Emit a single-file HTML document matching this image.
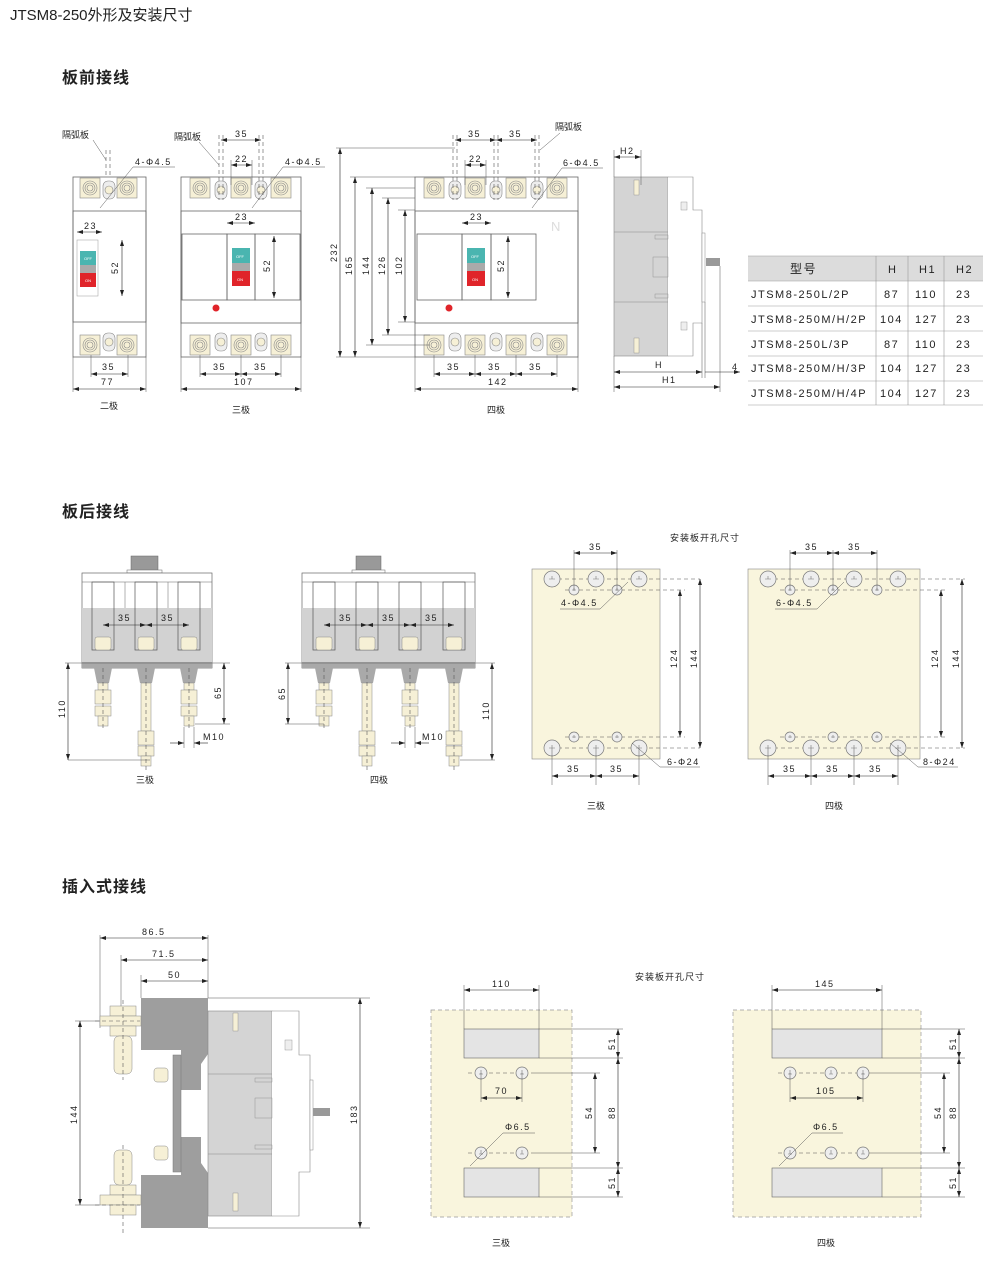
<!DOCTYPE html>
<html><head><meta charset="utf-8"><style>
html,body{margin:0;padding:0;background:#fff}
svg{display:block}
text{font-family:"Liberation Sans","Noto Sans CJK SC",sans-serif;fill:#222}
.t{font-size:9px;letter-spacing:1.5px}
.h{font-size:16px;font-weight:bold;letter-spacing:1px}
.o{fill:none;stroke:#666;stroke-width:.8}
.d{stroke:#222;stroke-width:.6;fill:none}
.e{stroke:#555;stroke-width:.5;fill:none}
.dash{stroke:#555;stroke-width:.6;stroke-dasharray:4 3;fill:none}
</style></head><body>
<svg width="1000" height="1273" viewBox="0 0 1000 1273" xmlns="http://www.w3.org/2000/svg">
<defs>
<marker id="a" viewBox="0 0 6 4" refX="6" refY="2" markerWidth="6" markerHeight="4" markerUnits="userSpaceOnUse" orient="auto-start-reverse"><path d="M0,0L6,2L0,4z" fill="#222"/></marker>
<g id="term"><rect x="-10" y="-10" width="20" height="20" fill="#f6f0d6" stroke="#888" stroke-width=".6"/><circle r="7" fill="none" stroke="#888" stroke-width=".6"/><circle r="5" fill="none" stroke="#888" stroke-width=".6"/><circle r="3" fill="none" stroke="#888" stroke-width=".6"/></g>
<g id="sm"><rect x="-6" y="-9" width="12" height="18" rx="5" fill="#eee" stroke="#888" stroke-width=".6"/><circle r="4" fill="#f6f0d6" stroke="#888" stroke-width=".6"/></g>
<g id="bh"><circle r="8" fill="#eee" stroke="#777" stroke-width=".7"/><path d="M-3,0H3M0,-3V0" stroke="#777" stroke-width=".6"/></g>
<g id="sh"><circle r="5" fill="#eee" stroke="#777" stroke-width=".7"/><path d="M-2,0H2M0,-2V1" stroke="#777" stroke-width=".6"/></g>
<g id="h6"><circle r="6" fill="#eee" stroke="#777" stroke-width=".7"/><path d="M-2,1H2M0,-3V1" stroke="#777" stroke-width=".6"/></g>
<g id="short"><path d="M-9,0H9L6,15H-6Z" fill="#a9a9a9"/><rect x="-5" y="15" width="10" height="7" fill="#f6f0d6" stroke="#888" stroke-width=".5"/><rect x="-8" y="22" width="16" height="14" fill="#f6f0d6" stroke="#888" stroke-width=".5"/><rect x="-8" y="38" width="16" height="10" fill="#f6f0d6" stroke="#888" stroke-width=".5"/><rect x="-5" y="48" width="10" height="10" fill="#f6f0d6" stroke="#888" stroke-width=".5"/><path d="M0,0V62" class="dash"/></g>
<g id="long"><path d="M-9,0H9L6,15H-6Z" fill="#a9a9a9"/><rect x="-5" y="15" width="10" height="48" fill="#f6f0d6" stroke="#888" stroke-width=".5"/><rect x="-8" y="63" width="16" height="14" fill="#f6f0d6" stroke="#888" stroke-width=".5"/><rect x="-8" y="78" width="16" height="10" fill="#f6f0d6" stroke="#888" stroke-width=".5"/><rect x="-5" y="88" width="10" height="10" fill="#f6f0d6" stroke="#888" stroke-width=".5"/><path d="M0,0V102" class="dash"/></g>
<g id="slot"><rect x="-11" y="0" width="22" height="68" fill="none" stroke="#555" stroke-width=".7"/><rect x="-8" y="55" width="16" height="13" rx="2" fill="#f6f0d6" stroke="#888" stroke-width=".5"/></g>
</defs>

<text x="10" y="20" style="font-size:15px">JTSM8-250外形及安装尺寸</text>
<text x="62" y="83" class="h">板前接线</text>
<text x="62" y="517" class="h">板后接线</text>
<text x="62" y="892" class="h">插入式接线</text>

<!-- ===== 2P ===== -->
<rect x="73" y="177" width="73" height="180" class="o"/>
<rect x="73" y="211" width="73" height="111" class="o" fill="#fff"/>
<use href="#term" x="90" y="188"/><use href="#term" x="127" y="188"/><use href="#sm" x="109" y="190"/>
<use href="#term" x="90" y="345"/><use href="#term" x="127" y="345"/><use href="#sm" x="109" y="342"/>
<rect x="77" y="240" width="21" height="56" fill="#fff" stroke="#999" stroke-width=".5"/>
<rect x="80" y="251" width="16" height="14" fill="#4ab5b0"/><rect x="80" y="265" width="16" height="8" fill="#aaa"/><rect x="80" y="273" width="16" height="14" fill="#e0242a"/>
<text x="84" y="260" style="font-size:4px;fill:#fff">OFF</text><text x="85" y="282" style="font-size:4px;fill:#fff">ON</text>
<line x1="77" y1="232" x2="102" y2="232" class="d" marker-start="url(#a)" marker-end="url(#a)"/><text x="84" y="229" class="t">23</text>
<line x1="122" y1="240" x2="122" y2="296" class="d" marker-start="url(#a)" marker-end="url(#a)"/><text transform="translate(118,274) rotate(-90)" class="t">52</text>
<line x1="91" y1="374" x2="128" y2="374" class="d" marker-start="url(#a)" marker-end="url(#a)"/><text x="102" y="370" class="t">35</text>
<line x1="73" y1="389" x2="146" y2="389" class="d" marker-start="url(#a)" marker-end="url(#a)"/><text x="101" y="385" class="t">77</text>
<path d="M73,357V392M146,357V392M91,355V377M128,355V377" class="e"/>
<text x="100" y="409" style="font-size:9px">二极</text>
<text x="62" y="138" style="font-size:9px">隔弧板</text><path d="M93,140L106,160" class="e"/><path d="M106,150V178M110,150V178" class="dash"/>
<text x="135" y="165" class="t">4-Φ4.5</text><path d="M175,167H133L100,208" class="e"/>

<!-- ===== 3P ===== -->
<rect x="181" y="177" width="120" height="180" class="o"/>
<rect x="181" y="211" width="120" height="112" class="o" fill="#fff"/>
<use href="#term" x="200" y="188"/><use href="#term" x="241" y="188"/><use href="#term" x="281" y="188"/>
<use href="#sm" x="221" y="190"/><use href="#sm" x="261" y="190"/>
<use href="#term" x="200" y="345"/><use href="#term" x="241" y="345"/><use href="#term" x="281" y="345"/>
<use href="#sm" x="221" y="342"/><use href="#sm" x="261" y="342"/>
<rect x="182" y="234" width="45" height="66" class="o"/><rect x="227" y="234" width="28" height="66" class="o"/><rect x="255" y="234" width="45" height="66" class="o"/>
<rect x="232" y="248" width="18" height="15" fill="#4ab5b0"/><rect x="232" y="263" width="18" height="8" fill="#aaa"/><rect x="232" y="271" width="18" height="15" fill="#e0242a"/>
<text x="236" y="258" style="font-size:4px;fill:#fff">OFF</text><text x="237" y="281" style="font-size:4px;fill:#fff">ON</text>
<circle cx="216" cy="308" r="3.5" fill="#e0242a"/>
<line x1="221" y1="140" x2="261" y2="140" class="d" marker-start="url(#a)" marker-end="url(#a)"/><text x="235" y="137" class="t">35</text>
<line x1="231" y1="165" x2="252" y2="165" class="d" marker-start="url(#a)" marker-end="url(#a)"/><text x="235" y="162" class="t">22</text>
<line x1="227" y1="223" x2="255" y2="223" class="d" marker-start="url(#a)" marker-end="url(#a)"/><text x="235" y="220" class="t">23</text>
<line x1="274" y1="236" x2="274" y2="298" class="d" marker-start="url(#a)" marker-end="url(#a)"/><text transform="translate(270,272) rotate(-90)" class="t">52</text>
<path d="M219,135V200M223,135V200M259,135V200M263,135V200" class="dash"/>
<path d="M231,160V185M252,160V185" class="e"/>
<line x1="200" y1="374" x2="241" y2="374" class="d" marker-start="url(#a)" marker-end="url(#a)"/><line x1="241" y1="374" x2="281" y2="374" class="d" marker-start="url(#a)" marker-end="url(#a)"/>
<text x="213" y="370" class="t">35</text><text x="254" y="370" class="t">35</text>
<line x1="181" y1="389" x2="301" y2="389" class="d" marker-start="url(#a)" marker-end="url(#a)"/><text x="234" y="385" class="t">107</text>
<path d="M181,357V392M301,357V392M200,355V377M241,355V377M281,355V377" class="e"/>
<text x="232" y="413" style="font-size:9px">三极</text>
<text x="174" y="140" style="font-size:9px">隔弧板</text><path d="M199,142L219,165" class="e"/>
<text x="285" y="165" class="t">4-Φ4.5</text><path d="M325,167H283L252,208" class="e"/>

<!-- ===== 4P ===== -->
<rect x="415" y="177" width="163" height="180" class="o"/>
<rect x="415" y="211" width="163" height="112" class="o" fill="#fff"/>
<use href="#term" x="434" y="188"/><use href="#term" x="475" y="188"/><use href="#term" x="516" y="188"/><use href="#term" x="557" y="188"/>
<use href="#sm" x="455" y="190"/><use href="#sm" x="496" y="190"/><use href="#sm" x="537" y="190"/>
<use href="#term" x="434" y="345"/><use href="#term" x="475" y="345"/><use href="#term" x="516" y="345"/><use href="#term" x="557" y="345"/>
<use href="#sm" x="455" y="342"/><use href="#sm" x="496" y="342"/><use href="#sm" x="537" y="342"/>
<rect x="417" y="234" width="45" height="66" class="o"/><rect x="462" y="234" width="29" height="66" class="o"/><rect x="491" y="234" width="45" height="66" class="o"/>
<rect x="467" y="248" width="18" height="15" fill="#4ab5b0"/><rect x="467" y="263" width="18" height="8" fill="#aaa"/><rect x="467" y="271" width="18" height="15" fill="#e0242a"/>
<text x="471" y="258" style="font-size:4px;fill:#fff">OFF</text><text x="472" y="281" style="font-size:4px;fill:#fff">ON</text>
<circle cx="449" cy="308" r="3.5" fill="#e0242a"/>
<text x="551" y="231" style="font-size:13px;fill:#ddd">N</text>
<line x1="455" y1="140" x2="496" y2="140" class="d" marker-start="url(#a)" marker-end="url(#a)"/><line x1="496" y1="140" x2="537" y2="140" class="d" marker-start="url(#a)" marker-end="url(#a)"/>
<text x="468" y="137" class="t">35</text><text x="509" y="137" class="t">35</text>
<line x1="465" y1="165" x2="486" y2="165" class="d" marker-start="url(#a)" marker-end="url(#a)"/><text x="469" y="162" class="t">22</text>
<line x1="462" y1="223" x2="491" y2="223" class="d" marker-start="url(#a)" marker-end="url(#a)"/><text x="470" y="220" class="t">23</text>
<line x1="508" y1="236" x2="508" y2="298" class="d" marker-start="url(#a)" marker-end="url(#a)"/><text transform="translate(504,272) rotate(-90)" class="t">52</text>
<path d="M453,135V200M457,135V200M494,135V200M498,135V200M535,135V200M539,135V200" class="dash"/>
<path d="M465,160V185M486,160V185" class="e"/>
<line x1="434" y1="374" x2="475" y2="374" class="d" marker-start="url(#a)" marker-end="url(#a)"/><line x1="475" y1="374" x2="516" y2="374" class="d" marker-start="url(#a)" marker-end="url(#a)"/><line x1="516" y1="374" x2="557" y2="374" class="d" marker-start="url(#a)" marker-end="url(#a)"/>
<text x="447" y="370" class="t">35</text><text x="488" y="370" class="t">35</text><text x="529" y="370" class="t">35</text>
<line x1="415" y1="389" x2="578" y2="389" class="d" marker-start="url(#a)" marker-end="url(#a)"/><text x="488" y="385" class="t">142</text>
<path d="M415,357V392M578,357V392M434,355V377M475,355V377M516,355V377M557,355V377" class="e"/>
<text x="487" y="413" style="font-size:9px">四极</text>
<path d="M336,148H455M336,357H415M350,177H415M366,188H415M382,198H415M398,210H415M366,345H430M382,335H430M398,322H415" class="e"/>
<line x1="340" y1="148" x2="340" y2="357" class="d" marker-start="url(#a)" marker-end="url(#a)"/><text transform="translate(337,262) rotate(-90)" class="t">232</text>
<line x1="355" y1="177" x2="355" y2="357" class="d" marker-start="url(#a)" marker-end="url(#a)"/><text transform="translate(352,275) rotate(-90)" class="t">165</text>
<line x1="372" y1="188" x2="372" y2="345" class="d" marker-start="url(#a)" marker-end="url(#a)"/><text transform="translate(369,275) rotate(-90)" class="t">144</text>
<line x1="388" y1="198" x2="388" y2="335" class="d" marker-start="url(#a)" marker-end="url(#a)"/><text transform="translate(385,275) rotate(-90)" class="t">126</text>
<line x1="405" y1="210" x2="405" y2="322" class="d" marker-start="url(#a)" marker-end="url(#a)"/><text transform="translate(402,275) rotate(-90)" class="t">102</text>
<text x="555" y="130" style="font-size:9px">隔弧板</text><path d="M560,133L540,150" class="e"/>
<text x="563" y="166" class="t">6-Φ4.5</text><path d="M603,168H562L532,208" class="e"/>

<!-- ===== side view ===== -->
<rect x="614" y="177" width="54" height="179" fill="#d4d4d4" stroke="#888" stroke-width=".6"/>
<path d="M614,232H668M614,302H668" stroke="#888" stroke-width=".6"/>
<path d="M668,177H693V210H702V323H693V356H668" fill="#fff" stroke="#888" stroke-width=".6"/>
<rect x="702" y="233" width="3" height="69" fill="#fff" stroke="#888" stroke-width=".5"/>
<path d="M706,258H720V266H706Z" fill="#999"/>
<rect x="634" y="180" width="5" height="15" fill="#f6f0d6" stroke="#888" stroke-width=".4"/><rect x="634" y="338" width="5" height="15" fill="#f6f0d6" stroke="#888" stroke-width=".4"/>
<rect x="681" y="202" width="6" height="8" fill="#eee" stroke="#888" stroke-width=".4"/><rect x="681" y="322" width="6" height="8" fill="#eee" stroke="#888" stroke-width=".4"/>
<rect x="655" y="235" width="13" height="4" fill="none" stroke="#888" stroke-width=".4"/><rect x="653" y="257" width="15" height="20" fill="none" stroke="#888" stroke-width=".4"/><rect x="655" y="294" width="13" height="4" fill="none" stroke="#888" stroke-width=".4"/>
<line x1="614" y1="157" x2="641" y2="157" class="d" marker-start="url(#a)" marker-end="url(#a)"/><text x="620" y="154" class="t">H2</text>
<path d="M614,150V177M641,150V185M614,356V392M702,323V378M720,266V392M705,302V378" class="e"/>
<line x1="614" y1="372" x2="702" y2="372" class="d" marker-start="url(#a)" marker-end="url(#a)"/><text x="655" y="368" class="t">H</text>
<line x1="705" y1="372" x2="740" y2="372" class="d" marker-end="url(#a)"/><text x="732" y="370" class="t">4</text>
<line x1="614" y1="387" x2="720" y2="387" class="d" marker-start="url(#a)" marker-end="url(#a)"/><text x="662" y="383" class="t">H1</text>

<rect x="748" y="256" width="235" height="25" fill="#dcdcdc"/>
<path d="M748,256H983M748,281H983M748,306H983M748,331H983M748,356H983M748,381H983M748,405H983M876,256V405M908,256V405M944,256V405" stroke="#999" stroke-width=".6" fill="none"/>
<g style="font-size:11px;letter-spacing:1.5px">
<text x="790" y="273" style="font-size:12px">型号</text><text x="888" y="273">H</text><text x="919" y="273">H1</text><text x="956" y="273">H2</text>
<text x="751" y="298">JTSM8-250L/2P</text><text x="884" y="298">87</text><text x="915" y="298">110</text><text x="956" y="298">23</text>
<text x="751" y="323">JTSM8-250M/H/2P</text><text x="880" y="323">104</text><text x="915" y="323">127</text><text x="956" y="323">23</text>
<text x="751" y="348">JTSM8-250L/3P</text><text x="884" y="348">87</text><text x="915" y="348">110</text><text x="956" y="348">23</text>
<text x="751" y="372">JTSM8-250M/H/3P</text><text x="880" y="372">104</text><text x="915" y="372">127</text><text x="956" y="372">23</text>
<text x="751" y="397">JTSM8-250M/H/4P</text><text x="880" y="397">104</text><text x="915" y="397">127</text><text x="956" y="397">23</text>
</g>

<!-- ===== section 2 : 3P rear ===== -->
<rect x="131" y="556" width="27" height="15" fill="#999" stroke="#666" stroke-width=".5"/><rect x="127" y="570" width="35" height="3" fill="#fff" stroke="#666" stroke-width=".5"/>
<rect x="82" y="573" width="130" height="95" fill="#fff" stroke="#666" stroke-width=".7"/>
<rect x="82" y="608" width="130" height="54" fill="#d2d2d2"/><rect x="82" y="662" width="130" height="6" fill="#a9a9a9"/>
<line x1="82" y1="582" x2="212" y2="582" stroke="#666" stroke-width=".6"/>
<use href="#slot" x="103" y="582"/><use href="#slot" x="146" y="582"/><use href="#slot" x="189" y="582"/>
<path d="M125,582V608M168,582V608" stroke="#666" stroke-width=".5"/>
<line x1="103" y1="625" x2="146" y2="625" class="d" marker-start="url(#a)" marker-end="url(#a)"/><line x1="146" y1="625" x2="189" y2="625" class="d" marker-start="url(#a)" marker-end="url(#a)"/>
<text x="118" y="621" class="t">35</text><text x="161" y="621" class="t">35</text>
<use href="#short" x="103" y="668"/><use href="#long" x="146" y="668"/><use href="#short" x="189" y="668"/>
<path d="M65,663H230M68,760H150M195,724H230" class="e"/>
<line x1="68" y1="663" x2="68" y2="760" class="d" marker-start="url(#a)" marker-end="url(#a)"/><text transform="translate(65,718) rotate(-90)" class="t">110</text>
<line x1="224" y1="663" x2="224" y2="724" class="d" marker-start="url(#a)" marker-end="url(#a)"/><text transform="translate(221,699) rotate(-90)" class="t">65</text>
<path d="M184,727V748M194,727V748" class="e"/>
<line x1="170" y1="743" x2="184" y2="743" class="d" marker-end="url(#a)"/><line x1="208" y1="743" x2="194" y2="743" class="d" marker-end="url(#a)"/>
<text x="203" y="740" class="t">M10</text>
<text x="136" y="783" style="font-size:9px">三极</text>

<!-- 4P rear -->
<rect x="356" y="556" width="25" height="15" fill="#999" stroke="#666" stroke-width=".5"/><rect x="352" y="570" width="33" height="3" fill="#fff" stroke="#666" stroke-width=".5"/>
<rect x="302" y="573" width="173" height="95" fill="#fff" stroke="#666" stroke-width=".7"/>
<rect x="302" y="608" width="173" height="54" fill="#d2d2d2"/><rect x="302" y="662" width="173" height="6" fill="#a9a9a9"/>
<line x1="302" y1="582" x2="475" y2="582" stroke="#666" stroke-width=".6"/>
<use href="#slot" x="324" y="582"/><use href="#slot" x="367" y="582"/><use href="#slot" x="410" y="582"/><use href="#slot" x="454" y="582"/>
<line x1="324" y1="625" x2="367" y2="625" class="d" marker-start="url(#a)" marker-end="url(#a)"/><line x1="367" y1="625" x2="410" y2="625" class="d" marker-start="url(#a)" marker-end="url(#a)"/><line x1="410" y1="625" x2="454" y2="625" class="d" marker-start="url(#a)" marker-end="url(#a)"/>
<text x="339" y="621" class="t">35</text><text x="382" y="621" class="t">35</text><text x="425" y="621" class="t">35</text>
<use href="#short" x="324" y="668"/><use href="#long" x="367" y="668"/><use href="#short" x="410" y="668"/><use href="#long" x="454" y="668"/>
<path d="M285,663H495M285,724H324M460,760H495" class="e"/>
<line x1="288" y1="663" x2="288" y2="724" class="d" marker-start="url(#a)" marker-end="url(#a)"/><text transform="translate(285,700) rotate(-90)" class="t">65</text>
<line x1="492" y1="663" x2="492" y2="760" class="d" marker-start="url(#a)" marker-end="url(#a)"/><text transform="translate(489,720) rotate(-90)" class="t">110</text>
<path d="M405,727V748M415,727V748" class="e"/>
<line x1="391" y1="743" x2="405" y2="743" class="d" marker-end="url(#a)"/><line x1="429" y1="743" x2="415" y2="743" class="d" marker-end="url(#a)"/>
<text x="422" y="740" class="t">M10</text>
<text x="370" y="783" style="font-size:9px">四极</text>

<!-- panels section 2 -->
<text x="670" y="541" style="font-size:9px;letter-spacing:1px">安装板开孔尺寸</text>
<rect x="532" y="569" width="128" height="190" fill="#f9f5dd" stroke="#888" stroke-width=".6"/>
<path d="M544,579H700M565,590H685M565,737H685M544,748H700" class="dash"/>
<use href="#bh" x="552" y="579"/><use href="#bh" x="596" y="579"/><use href="#bh" x="639" y="579"/>
<use href="#sh" x="574" y="590"/><use href="#sh" x="617" y="590"/><use href="#sh" x="574" y="737"/><use href="#sh" x="617" y="737"/>
<use href="#bh" x="552" y="748"/><use href="#bh" x="596" y="748"/><use href="#bh" x="639" y="748"/>
<path d="M574,550V590M617,550V590M552,748V785M596,748V785M639,748V785" class="e"/>
<line x1="574" y1="553" x2="617" y2="553" class="d" marker-start="url(#a)" marker-end="url(#a)"/><text x="589" y="550" class="t">35</text>
<line x1="680" y1="590" x2="680" y2="737" class="d" marker-start="url(#a)" marker-end="url(#a)"/><text transform="translate(677,668) rotate(-90)" class="t">124</text>
<line x1="700" y1="579" x2="700" y2="748" class="d" marker-start="url(#a)" marker-end="url(#a)"/><text transform="translate(697,668) rotate(-90)" class="t">144</text>
<line x1="552" y1="776" x2="596" y2="776" class="d" marker-start="url(#a)" marker-end="url(#a)"/><line x1="596" y1="776" x2="639" y2="776" class="d" marker-start="url(#a)" marker-end="url(#a)"/>
<text x="567" y="772" class="t">35</text><text x="610" y="772" class="t">35</text>
<text x="561" y="606" class="t">4-Φ4.5</text><path d="M560,609H600L628,582" class="e"/>
<text x="667" y="765" class="t">6-Φ24</text><path d="M700,767H660L632,743" class="e"/>
<text x="587" y="809" style="font-size:9px">三极</text>

<rect x="748" y="569" width="172" height="190" fill="#f9f5dd" stroke="#888" stroke-width=".6"/>
<path d="M760,579H965M780,590H945M780,737H945M760,748H965" class="dash"/>
<use href="#bh" x="768" y="579"/><use href="#bh" x="811" y="579"/><use href="#bh" x="854" y="579"/><use href="#bh" x="898" y="579"/>
<use href="#sh" x="790" y="590"/><use href="#sh" x="833" y="590"/><use href="#sh" x="877" y="590"/>
<use href="#sh" x="790" y="737"/><use href="#sh" x="833" y="737"/><use href="#sh" x="877" y="737"/>
<use href="#bh" x="768" y="748"/><use href="#bh" x="811" y="748"/><use href="#bh" x="854" y="748"/><use href="#bh" x="898" y="748"/>
<path d="M790,550V590M833,550V590M877,550V590M768,748V785M811,748V785M854,748V785M898,748V785" class="e"/>
<line x1="790" y1="553" x2="833" y2="553" class="d" marker-start="url(#a)" marker-end="url(#a)"/><line x1="833" y1="553" x2="877" y2="553" class="d" marker-start="url(#a)" marker-end="url(#a)"/>
<text x="805" y="550" class="t">35</text><text x="848" y="550" class="t">35</text>
<line x1="941" y1="590" x2="941" y2="737" class="d" marker-start="url(#a)" marker-end="url(#a)"/><text transform="translate(938,668) rotate(-90)" class="t">124</text>
<line x1="962" y1="579" x2="962" y2="748" class="d" marker-start="url(#a)" marker-end="url(#a)"/><text transform="translate(959,668) rotate(-90)" class="t">144</text>
<line x1="768" y1="776" x2="811" y2="776" class="d" marker-start="url(#a)" marker-end="url(#a)"/><line x1="811" y1="776" x2="854" y2="776" class="d" marker-start="url(#a)" marker-end="url(#a)"/><line x1="854" y1="776" x2="898" y2="776" class="d" marker-start="url(#a)" marker-end="url(#a)"/>
<text x="783" y="772" class="t">35</text><text x="826" y="772" class="t">35</text><text x="869" y="772" class="t">35</text>
<text x="776" y="606" class="t">6-Φ4.5</text><path d="M775,609H817L844,582" class="e"/>
<text x="923" y="765" class="t">8-Φ24</text><path d="M958,767H918L890,743" class="e"/>
<text x="825" y="809" style="font-size:9px">四极</text>

<!-- ===== section 3 plug-in ===== -->
<path d="M100,935V1028M121,955V1020M141,975V998M208,935V998" class="e"/>
<line x1="100" y1="938" x2="208" y2="938" class="d" marker-start="url(#a)" marker-end="url(#a)"/><text x="142" y="935" class="t">86.5</text>
<line x1="121" y1="960" x2="208" y2="960" class="d" marker-start="url(#a)" marker-end="url(#a)"/><text x="152" y="957" class="t">71.5</text>
<line x1="141" y1="981" x2="208" y2="981" class="d" marker-start="url(#a)" marker-end="url(#a)"/><text x="168" y="978" class="t">50</text>
<path d="M141,998H208V1054L201,1064V1090H181V1050H141Z" fill="#9e9e9e"/>
<path d="M141,1228H208V1173L201,1163V1137H181V1175H141Z" fill="#9e9e9e"/>
<rect x="173" y="1055" width="8" height="117" fill="#9e9e9e" stroke="#777" stroke-width=".5"/>
<rect x="208" y="1011" width="64" height="205" fill="#d4d4d4" stroke="#888" stroke-width=".6"/>
<path d="M208,1074H272M208,1154H272" stroke="#888" stroke-width=".6"/>
<path d="M272,1011H299V1055H310V1172H299V1216H272" fill="#fff" stroke="#888" stroke-width=".6"/>
<rect x="310" y="1080" width="3" height="70" fill="#fff" stroke="#888" stroke-width=".5"/>
<path d="M313,1108H330V1116H313Z" fill="#999"/>
<rect x="233" y="1013" width="5" height="18" fill="#f6f0d6" stroke="#888" stroke-width=".4"/><rect x="233" y="1193" width="5" height="18" fill="#f6f0d6" stroke="#888" stroke-width=".4"/>
<rect x="285" y="1040" width="7" height="10" fill="#eee" stroke="#888" stroke-width=".4"/>
<rect x="255" y="1098" width="17" height="20" fill="none" stroke="#888" stroke-width=".4"/>
<rect x="255" y="1078" width="17" height="4" fill="none" stroke="#888" stroke-width=".4"/><rect x="255" y="1145" width="17" height="4" fill="none" stroke="#888" stroke-width=".4"/>
<g fill="#f6f0d6" stroke="#888" stroke-width=".5">
<rect x="110" y="1006" width="26" height="10"/><rect x="100" y="1016" width="41" height="10"/><rect x="110" y="1026" width="26" height="10"/><rect x="114" y="1036" width="18" height="38" rx="5"/>
<rect x="110" y="1185" width="26" height="10"/><rect x="100" y="1195" width="41" height="10"/><rect x="110" y="1205" width="26" height="10"/><rect x="114" y="1150" width="18" height="35" rx="5"/>
<rect x="154" y="1068" width="14" height="14" rx="3"/><rect x="154" y="1146" width="14" height="14" rx="3"/>
</g>
<path d="M123,1000V1080M123,1145V1233M95,1021H140M95,1205H140" class="dash"/>
<path d="M75,1021H100M75,1205H100M208,998H370M208,1228H370" class="e"/>
<line x1="80" y1="1021" x2="80" y2="1205" class="d" marker-start="url(#a)" marker-end="url(#a)"/><text transform="translate(77,1124) rotate(-90)" class="t">144</text>
<line x1="360" y1="998" x2="360" y2="1228" class="d" marker-start="url(#a)" marker-end="url(#a)"/><text transform="translate(357,1124) rotate(-90)" class="t">183</text>

<!-- panels section 3 -->
<text x="635" y="980" style="font-size:9px;letter-spacing:1px">安装板开孔尺寸</text>
<rect x="431" y="1010" width="141" height="207" fill="#f9f5dd" stroke="#999" stroke-width=".7" stroke-dasharray="4 3"/>
<rect x="464" y="1029" width="75" height="29" fill="#e4e4e4" stroke="#666" stroke-width=".6"/>
<rect x="464" y="1168" width="75" height="29" fill="#e4e4e4" stroke="#666" stroke-width=".6"/>
<path d="M468,1073H533M468,1153H533" class="dash"/>
<use href="#h6" x="481" y="1073"/><use href="#h6" x="522" y="1073"/><use href="#h6" x="481" y="1153"/><use href="#h6" x="522" y="1153"/>
<path d="M464,985V1029M539,985V1029M539,1029H623M539,1058H623M539,1168H623M539,1197H623M533,1073H600M533,1153H600M481,1073V1102M522,1073V1102" class="e"/>
<line x1="464" y1="990" x2="539" y2="990" class="d" marker-start="url(#a)" marker-end="url(#a)"/><text x="492" y="987" class="t">110</text>
<line x1="481" y1="1098" x2="522" y2="1098" class="d" marker-start="url(#a)" marker-end="url(#a)"/><text x="495" y="1094" class="t">70</text>
<line x1="595" y1="1073" x2="595" y2="1153" class="d" marker-start="url(#a)" marker-end="url(#a)"/><text transform="translate(592,1119) rotate(-90)" class="t">54</text>
<line x1="618" y1="1029" x2="618" y2="1058" class="d" marker-start="url(#a)" marker-end="url(#a)"/><text transform="translate(615,1050) rotate(-90)" class="t">51</text>
<line x1="618" y1="1058" x2="618" y2="1168" class="d" marker-start="url(#a)" marker-end="url(#a)"/><text transform="translate(615,1119) rotate(-90)" class="t">88</text>
<line x1="618" y1="1168" x2="618" y2="1197" class="d" marker-start="url(#a)" marker-end="url(#a)"/><text transform="translate(615,1189) rotate(-90)" class="t">51</text>
<text x="505" y="1130" class="t">Φ6.5</text><path d="M535,1133H503L470,1166" class="e"/>
<text x="492" y="1246" style="font-size:9px">三极</text>

<rect x="733" y="1010" width="188" height="207" fill="#f9f5dd" stroke="#999" stroke-width=".7" stroke-dasharray="4 3"/>
<rect x="772" y="1029" width="110" height="29" fill="#e4e4e4" stroke="#666" stroke-width=".6"/>
<rect x="772" y="1168" width="110" height="29" fill="#e4e4e4" stroke="#666" stroke-width=".6"/>
<path d="M778,1073H873M778,1153H873" class="dash"/>
<use href="#h6" x="790" y="1073"/><use href="#h6" x="831" y="1073"/><use href="#h6" x="863" y="1073"/>
<use href="#h6" x="790" y="1153"/><use href="#h6" x="831" y="1153"/><use href="#h6" x="863" y="1153"/>
<path d="M772,985V1029M882,985V1029M882,1029H965M882,1058H965M882,1168H965M882,1197H965M873,1073H950M873,1153H950M790,1073V1102M863,1073V1102" class="e"/>
<line x1="772" y1="990" x2="882" y2="990" class="d" marker-start="url(#a)" marker-end="url(#a)"/><text x="815" y="987" class="t">145</text>
<line x1="790" y1="1098" x2="863" y2="1098" class="d" marker-start="url(#a)" marker-end="url(#a)"/><text x="816" y="1094" class="t">105</text>
<line x1="944" y1="1073" x2="944" y2="1153" class="d" marker-start="url(#a)" marker-end="url(#a)"/><text transform="translate(941,1119) rotate(-90)" class="t">54</text>
<line x1="959" y1="1029" x2="959" y2="1058" class="d" marker-start="url(#a)" marker-end="url(#a)"/><text transform="translate(956,1050) rotate(-90)" class="t">51</text>
<line x1="959" y1="1058" x2="959" y2="1168" class="d" marker-start="url(#a)" marker-end="url(#a)"/><text transform="translate(956,1119) rotate(-90)" class="t">88</text>
<line x1="959" y1="1168" x2="959" y2="1197" class="d" marker-start="url(#a)" marker-end="url(#a)"/><text transform="translate(956,1189) rotate(-90)" class="t">51</text>
<text x="813" y="1130" class="t">Φ6.5</text><path d="M843,1133H812L779,1166" class="e"/>
<text x="817" y="1246" style="font-size:9px">四极</text>
</svg>
</body></html>
